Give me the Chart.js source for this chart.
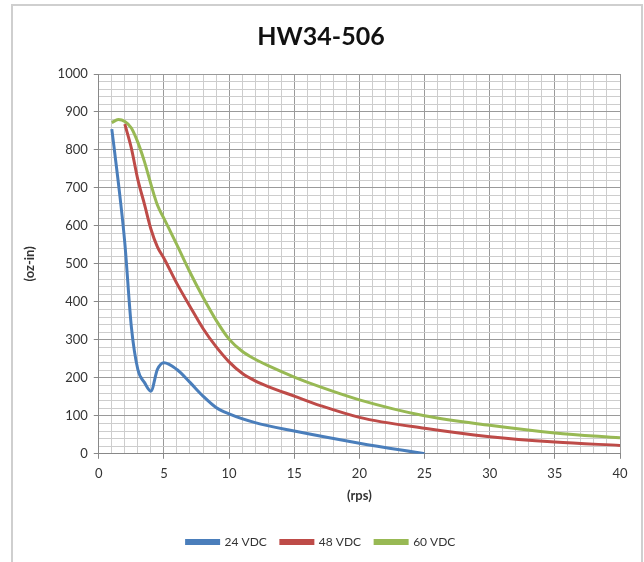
<!DOCTYPE html>
<html>
<head>
<meta charset="utf-8">
<script src="https://cdn.jsdelivr.net/npm/chart.js@4"></script>
<style>
  html, body { margin: 0; padding: 0; background: #fff; }
  #wrap { width: 644px; height: 562px; position: relative; }
</style>
</head>
<body>
<div id="wrap"><canvas id="chart" width="644" height="562"></canvas></div>
<script>
// speed (rps) and torque (oz-in)
const seriesNames = ['24 VDC', '48 VDC', '60 VDC'];

const speed24 = [1, 1.5, 2, 2.5, 3, 3.5, 4, 4.5, 5, 6, 7, 8, 9, 10, 12, 15, 20, 25];
const torque24 = [855, 715, 555, 335, 222, 188, 165, 222, 240, 222, 188, 152, 122, 105, 82, 60, 28, 0];

const speed48 = [2, 2.5, 3, 3.5, 4, 4.5, 5, 6, 7, 8, 9, 10, 11, 12, 13, 15, 17, 20, 25, 30, 35, 40];
const torque48 = [868, 805, 722, 658, 592, 545, 515, 448, 388, 330, 282, 242, 212, 192, 177, 152, 127, 96, 67, 45, 31, 22];

const speed60 = [1, 1.5, 2, 2.5, 3, 3.5, 4, 4.5, 5, 6, 7, 8, 9, 10, 11, 12, 13, 15, 17, 20, 25, 30, 35, 40];
const torque60 = [872, 880, 875, 858, 820, 770, 710, 655, 620, 550, 478, 412, 352, 302, 270, 249, 232, 202, 176, 142, 100, 75, 55, 42];

const xTicks = [0, 5, 10, 15, 20, 25, 30, 35, 40];
const yTicks = [0, 100, 200, 300, 400, 500, 600, 700, 800, 900, 1000];

const toPoints = (xs, ys) => xs.map((x, i) => ({ x, y: ys[i] }));

const font = 'Lato, "Open Sans", sans-serif';
const textColor = '#333';

const frame = {
    id: 'frame',
    beforeDraw(chart) {
        const { ctx } = chart;
        ctx.save();
        ctx.strokeStyle = '#cfcfcf';
        ctx.lineWidth = 2;
        ctx.strokeRect(12, 5, 630, 575);
        ctx.restore();
    }
};

const line = (label, data, color) => ({
    label,
    data,
    borderColor: color,
    backgroundColor: color,
    borderWidth: 3,
    pointRadius: 0,
    cubicInterpolationMode: 'monotone',
    fill: false
});

const ctx = document.getElementById('chart').getContext('2d');

new Chart(ctx, {
    type: 'line',
    data: {
        datasets: [
            line(seriesNames[0], toPoints(speed24, torque24), '#4a7ebb'),
            line(seriesNames[1], toPoints(speed48, torque48), '#be4b48'),
            line(seriesNames[2], toPoints(speed60, torque60), '#98b954')
        ]
    },
    options: {
        responsive: false,
        animation: false,
        layout: { padding: { left: 22, right: 24, top: 14, bottom: 4 } },
        plugins: {
            title: {
                display: true,
                text: 'HW34-506',
                color: '#111',
                font: { family: font, size: 25, weight: 'bold' },
                padding: { top: 8, bottom: 22 }
            },
            legend: {
                position: 'bottom',
                labels: {
                    color: textColor,
                    font: { family: font, size: 12 },
                    boxWidth: 32,
                    boxHeight: 3,
                    padding: 14
                }
            },
            tooltip: { enabled: false }
        },
        scales: {
            x: {
                type: 'linear',
                min: 0,
                max: 40,
                ticks: {
                    stepSize: 1,
                    autoSkip: false,
                    maxRotation: 0,
                    color: textColor,
                    font: { family: font, size: 13 },
                    padding: 7,
                    callback: v => xTicks.includes(v) ? String(v) : ''
                },
                grid: {
                    color: c => c.tick && c.tick.value % 5 === 0 ? '#9a9a9a' : '#cdcdcd',
                    tickColor: c => c.tick && c.tick.value % 5 === 0 ? '#888' : 'rgba(0,0,0,0)',
                    tickLength: 5
                },
                border: { color: '#888' },
                title: {
                    display: true,
                    text: '(rps)',
                    color: textColor,
                    font: { family: font, size: 13, weight: 'bold' },
                    padding: { top: 0, bottom: 18 }
                }
            },
            y: {
                min: 0,
                max: 1000,
                ticks: {
                    stepSize: 20,
                    autoSkip: false,
                    color: textColor,
                    font: { family: font, size: 13 },
                    padding: 6,
                    callback: v => yTicks.includes(v) ? String(v) : ''
                },
                grid: {
                    color: c => c.tick && c.tick.value % 100 === 0 ? '#9a9a9a' : '#cdcdcd',
                    tickColor: c => c.tick && c.tick.value % 100 === 0 ? '#888' : 'rgba(0,0,0,0)',
                    tickLength: 5
                },
                border: { color: '#888' },
                title: {
                    display: true,
                    text: '(oz-in)',
                    color: textColor,
                    font: { family: font, size: 13, weight: 'bold' },
                    padding: { top: 0, bottom: 14 }
                }
            }
        }
    },
    plugins: [frame]
});
</script>
</body>
</html>
